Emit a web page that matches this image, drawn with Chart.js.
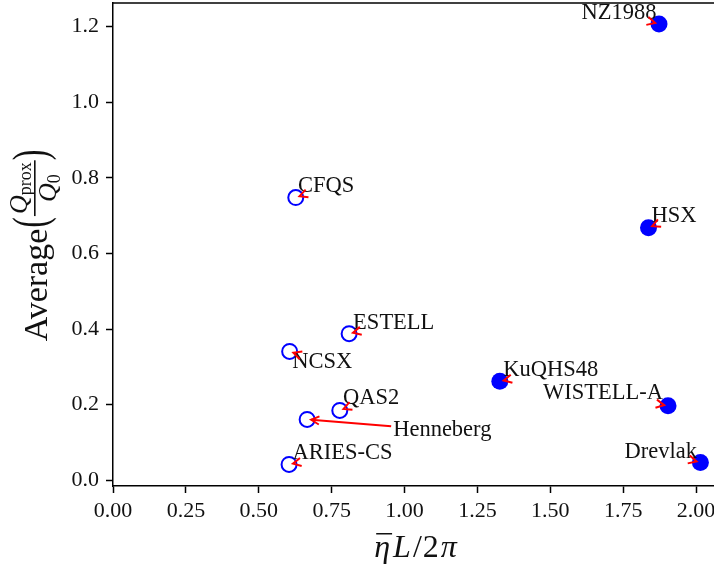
<!DOCTYPE html>
<html>
<head>
<meta charset="utf-8">
<script src="https://cdn.jsdelivr.net/npm/chart.js@4.4.0/dist/chart.umd.min.js"></script>
<style>
  html, body { margin: 0; padding: 0; background: #fff; }
  canvas { display: block; }
</style>
</head>
<body>
<canvas id="grafico" width="714" height="571"></canvas>
<script>
// Dados
const nomes = ['NZ1988', 'HSX', 'CFQS', 'ESTELL', 'NCSX', 'QAS2', 'Henneberg', 'ARIES-CS', 'KuQHS48', 'WISTELL-A', 'Drevlak'];
const etaL = [1.873, 1.837, 0.627, 0.810, 0.606, 0.778, 0.666, 0.604, 1.327, 1.904, 2.015];
const qProx = [1.207, 0.668, 0.748, 0.388, 0.341, 0.185, 0.161, 0.042, 0.262, 0.197, 0.047];
const preenchido = [true, true, false, false, false, false, false, false, true, true, true];
const ticksX = [0, 0.25, 0.5, 0.75, 1.0, 1.25, 1.5, 1.75, 2.0];
const ticksY = [0, 0.2, 0.4, 0.6, 0.8, 1.0, 1.2];

// Posição dos rótulos em relação ao ponto (px)
const posRotulos = {
  'NZ1988': { dx: -2.6, dy: -5, alinhar: 'right' },
  'HSX': { dx: 3, dy: -5.4 },
  'CFQS': { dx: 2.3, dy: -5.6 },
  'ESTELL': { dx: 4, dy: -5 },
  'NCSX': { dx: 2.7, dy: 17 },
  'QAS2': { dx: 3.3, dy: -6.7 },
  'Henneberg': { dx: 86, dy: 16.4 },
  'ARIES-CS': { dx: 3.4, dy: -5.7 },
  'KuQHS48': { dx: 3.3, dy: -5 },
  'WISTELL-A': { dx: -5, dy: -6.4, alinhar: 'right' },
  'Drevlak': { dx: -3.4, dy: -5, alinhar: 'right' }
};

const FONTE = '"Liberation Serif", "Times New Roman", serif';
const AZUL = '#0000ff';
const VERMELHO = '#ff0000';

function pontos(cheio) {
  const lista = [];
  nomes.forEach((n, i) => {
    if (preenchido[i] === cheio) lista.push({ x: etaL[i], y: qProx[i] });
  });
  return lista;
}

// Seta estilo "->" do matplotlib
function desenharSeta(ctx, bx, px, py) {
  const cx = (bx.left + bx.right) / 2;
  const cy = (bx.top + bx.bottom) / 2;
  let ux = px - cx, uy = py - cy;
  const len = Math.hypot(ux, uy);
  ux /= len; uy /= len;
  const hw = (bx.right - bx.left) / 2, hh = (bx.bottom - bx.top) / 2;
  const tSaida = Math.min(Math.abs(ux) > 1e-6 ? hw / Math.abs(ux) : 1e9, Math.abs(uy) > 1e-6 ? hh / Math.abs(uy) : 1e9) + 2;
  const tPonta = len - 4;
  const ex = cx + ux * tPonta, ey = cy + uy * tPonta;
  ctx.save();
  ctx.strokeStyle = VERMELHO;
  ctx.lineWidth = 2;
  if (tPonta > tSaida) {
    ctx.beginPath();
    ctx.moveTo(cx + ux * tSaida, cy + uy * tSaida);
    ctx.lineTo(ex, ey);
    ctx.stroke();
  }
  const ang = Math.atan2(-uy, -ux);
  const abre = 27 * Math.PI / 180, comp = 9;
  ctx.beginPath();
  ctx.moveTo(ex + comp * Math.cos(ang + abre), ey + comp * Math.sin(ang + abre));
  ctx.lineTo(ex, ey);
  ctx.lineTo(ex + comp * Math.cos(ang - abre), ey + comp * Math.sin(ang - abre));
  ctx.stroke();
  ctx.restore();
}

function desenharRotulos(chart) {
  const ctx = chart.ctx;
  const sx = chart.scales.x, sy = chart.scales.y;
  const tam = 22.5;
  ctx.save();
  ctx.font = tam + 'px ' + FONTE;
  ctx.fillStyle = '#111';
  ctx.textBaseline = 'alphabetic';
  ctx.textAlign = 'left';
  nomes.forEach((nome, i) => {
    const p = posRotulos[nome];
    const px = sx.getPixelForValue(etaL[i]);
    const py = sy.getPixelForValue(qProx[i]);
    const tx = px + p.dx, ty = py + p.dy;
    const w = ctx.measureText(nome).width;
    const esq = p.alinhar === 'right' ? tx - w : tx;
    ctx.fillText(nome, esq, ty);
    desenharSeta(ctx, { left: esq, right: esq + w, top: ty - 0.72 * tam, bottom: ty + 0.22 * tam }, px, py);
  });
  ctx.restore();
}

function desenharTituloY(ctx, area) {
  const cy = (area.top + area.bottom) / 2;
  ctx.save();
  ctx.translate(0, cy);
  ctx.rotate(-Math.PI / 2);
  ctx.fillStyle = '#111';
  ctx.textAlign = 'left';
  ctx.textBaseline = 'alphabetic';
  const fTexto = '34px ' + FONTE;
  const fParen = '32px ' + FONTE;
  const fQ = 'italic 26px ' + FONTE;
  const fSub = '18px ' + FONTE;
  ctx.font = fTexto; const wTexto = ctx.measureText('Average').width;
  ctx.font = fParen; const wParen = ctx.measureText('(').width + 2;
  ctx.font = fQ; const wQ = ctx.measureText('Q').width;
  ctx.font = fSub;
  const wProx = ctx.measureText('prox').width;
  const w0 = ctx.measureText('0').width;
  const wNum = wQ + wProx, wDen = wQ + w0;
  const wFrac = Math.max(wNum, wDen) + 4;
  let u = -(wTexto + 2 * wParen + wFrac) / 2;
  ctx.font = fTexto; ctx.fillText('Average', u, 47); u += wTexto;
  // parênteses esticados na vertical
  function paren(t, pos) {
    ctx.save();
    ctx.translate(pos, 33);
    ctx.scale(1, 1.5);
    ctx.font = fParen;
    ctx.textBaseline = 'middle';
    ctx.fillText(t, 0, 0);
    ctx.restore();
  }
  paren('(', u + 1); u += wParen;
  const uNum = u + (wFrac - wNum) / 2;
  ctx.font = fQ; ctx.fillText('Q', uNum, 27);
  ctx.font = fSub; ctx.fillText('prox', uNum + wQ, 31);
  ctx.fillRect(u, 34, wFrac, 1.6);
  const uDen = u + (wFrac - wDen) / 2;
  ctx.font = fQ; ctx.fillText('Q', uDen, 56);
  ctx.font = fSub; ctx.fillText('0', uDen + wQ, 60);
  u += wFrac;
  paren(')', u);
  ctx.restore();
}

function desenharTituloX(ctx, area) {
  const fIt = 'italic 32px ' + FONTE, fUp = '32px ' + FONTE;
  const partes = [['η', fIt, 3], ['L', fIt, 2], ['/', fUp, 1], ['2', fUp, 2], ['π', fIt, 0]];
  ctx.save();
  ctx.fillStyle = '#111';
  ctx.textAlign = 'left';
  ctx.textBaseline = 'alphabetic';
  let total = 0;
  const larg = partes.map(([t, f, g]) => { ctx.font = f; const w = ctx.measureText(t).width; total += w + g; return w; });
  let x = (area.left + area.right) / 2 - total / 2 + 2;
  const base = 557;
  partes.forEach(([t, f, g], i) => {
    ctx.font = f;
    ctx.fillText(t, x, base);
    if (i === 0) ctx.fillRect(x + 2, base - 24, larg[i], 1.5);
    x += larg[i] + g;
  });
  ctx.restore();
}

const decoracao = {
  id: 'decoracao',
  afterDraw(chart) {
    const ctx = chart.ctx, area = chart.chartArea;
    ctx.save();
    ctx.strokeStyle = '#000';
    ctx.lineWidth = 1.5;
    ctx.beginPath();
    ctx.moveTo(area.left, area.top);
    ctx.lineTo(area.right, area.top);
    ctx.stroke();
    ctx.restore();
    desenharRotulos(chart);
    desenharTituloY(ctx, area);
    desenharTituloX(ctx, area);
  }
};

const fonteTicks = { family: FONTE, size: 22 };

new Chart(document.getElementById('grafico'), {
  type: 'scatter',
  data: {
    datasets: [
      {
        data: pontos(true),
        backgroundColor: AZUL,
        borderColor: AZUL,
        borderWidth: 0,
        pointRadius: 8.5,
        pointHoverRadius: 8.5
      },
      {
        data: pontos(false),
        backgroundColor: 'rgba(0,0,0,0)',
        borderColor: AZUL,
        borderWidth: 2,
        pointRadius: 7.5,
        pointHoverRadius: 7.5
      }
    ]
  },
  options: {
    responsive: false,
    animation: false,
    devicePixelRatio: 1,
    layout: { autoPadding: false, padding: { top: 3, left: 0, right: 0, bottom: 0 } },
    plugins: { legend: { display: false }, tooltip: { enabled: false } },
    scales: {
      x: {
        type: 'linear',
        min: 0,
        max: 2.0617,
        afterBuildTicks: s => { s.ticks = ticksX.map(v => ({ value: v })); },
        afterFit: s => { s.height = 85; s.paddingLeft = 0; s.paddingRight = 0; },
        ticks: {
          font: fonteTicks,
          color: '#111',
          padding: 5,
          maxRotation: 0,
          autoSkip: false,
          callback: v => v.toFixed(2)
        },
        grid: { display: true, drawOnChartArea: false, tickLength: 7, tickWidth: 1.5, tickColor: '#000' },
        border: { display: true, color: '#000', width: 1.5 }
      },
      y: {
        type: 'linear',
        min: -0.015,
        max: 1.2626,
        afterBuildTicks: s => { s.ticks = ticksY.map(v => ({ value: v })); },
        afterFit: s => { s.width = 113; s.paddingTop = 0; s.paddingBottom = 0; },
        ticks: {
          font: fonteTicks,
          color: '#111',
          padding: 7,
          autoSkip: false,
          callback: v => v.toFixed(1)
        },
        grid: { display: true, drawOnChartArea: false, tickLength: 7, tickWidth: 1.5, tickColor: '#000' },
        border: { display: true, color: '#000', width: 1.5 }
      }
    }
  },
  plugins: [decoracao]
});
</script>
</body>
</html>
